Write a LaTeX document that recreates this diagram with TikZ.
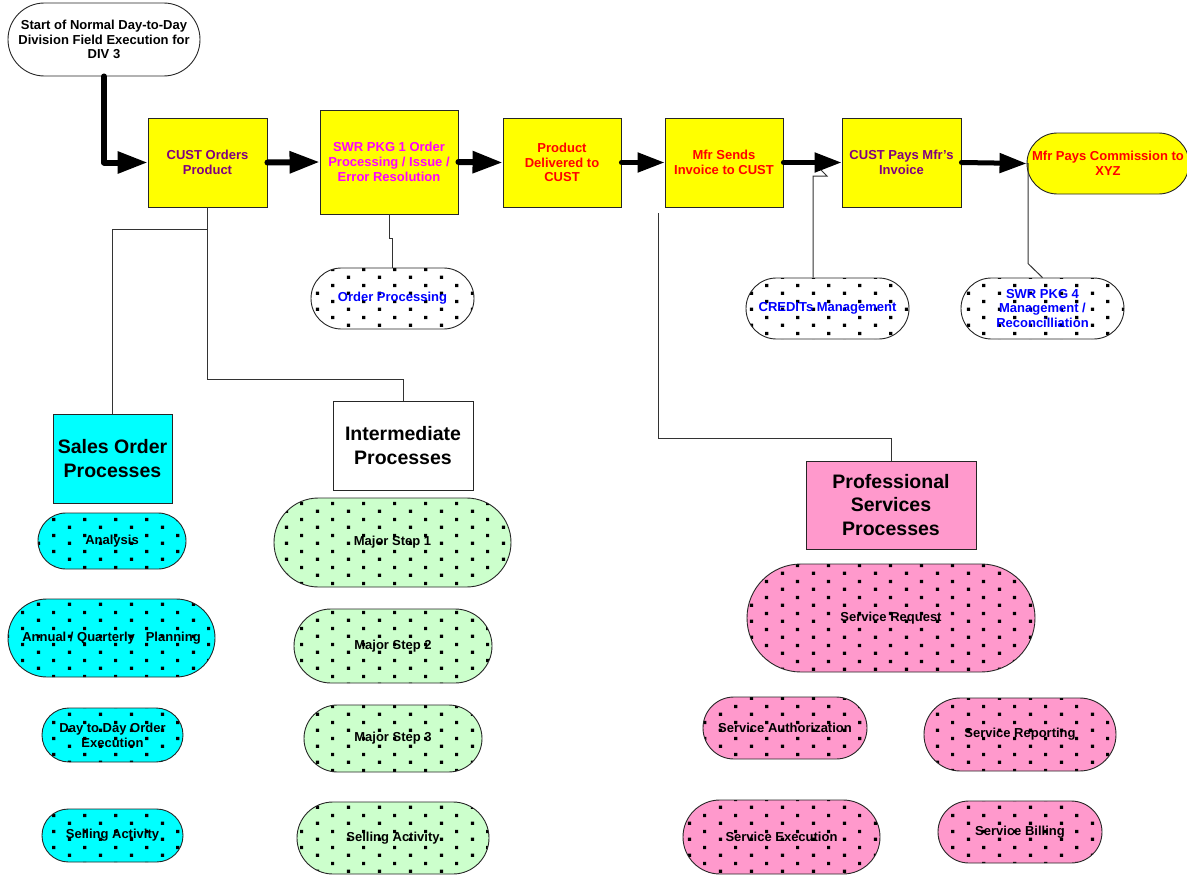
\documentclass[tikz,border=0pt]{standalone}
\usepackage{fontspec}
\setmainfont{Liberation Sans}
\usetikzlibrary{arrows.meta,patterns}
\pgfdeclarepatternformonly{sqdots}{\pgfpointorigin}{\pgfpoint{31pt}{15.6pt}}{\pgfpoint{31pt}{15.6pt}}{%
  \pgfpathrectangle{\pgfpoint{6.1pt}{2.25pt}}{\pgfpoint{3.3pt}{3.3pt}}%
  \pgfpathrectangle{\pgfpoint{21.6pt}{10.05pt}}{\pgfpoint{3.3pt}{3.3pt}}%
  \pgfusepath{fill}}
\definecolor{ylw}{HTML}{FFFF00}
\definecolor{purp}{HTML}{800080}
\definecolor{mag}{HTML}{FF00FF}
\definecolor{rd}{HTML}{FF0000}
\definecolor{blu}{HTML}{0000FF}
\definecolor{cyn}{HTML}{00FFFF}
\definecolor{lgreen}{HTML}{CCFFCC}
\definecolor{pnk}{HTML}{FF99CC}
\tikzset{
  every node/.style={font=\bfseries\fontsize{13}{14.7}\selectfont, align=center, inner sep=0pt},
  box/.style n args={2}{rectangle, draw=black!85, line width=0.9pt, minimum width=#1pt, minimum height=#2pt},
  stad/.style n args={2}{rectangle, draw=black!85, line width=0.9pt, minimum width=#1pt, minimum height=#2pt, rounded corners={0.499*#2pt}},
  dots/.style={preaction={fill=#1}, pattern=sqdots},
  bigtxt/.style={font=\bfseries\fontsize{19.5}{23.3}\selectfont},
  bigarrow/.style={line width=6pt, line cap=round, line join=round, -{Triangle[length=30pt,width=21pt]}},
  midarrow/.style={line width=5pt, line cap=round, line join=round, -{Triangle[length=27pt,width=19pt]}},
  conn/.style={draw=black!80, line width=1pt}
}
\begin{document}
\begin{tikzpicture}[x=1pt,y=-1pt]
\useasboundingbox (0,0) rectangle (1187,875);
% top row
\node[stad={192}{73}, fill=white] (start) at (104,39.5) {Start of Normal Day-to-Day\\Division Field Execution for\\DIV 3};
\node[box={119}{89}, fill=ylw, text=purp] (cust) at (207.5,162.5) {CUST Orders\\Product};
\node[box={138}{104}, fill=ylw, text=mag] (swr) at (389,162) {SWR PKG 1 Order\\Processing / Issue /\\Error Resolution};
\node[box={118}{89}, fill=ylw, text=rd] (prod) at (562,162.5) {Product\\Delivered to\\CUST};
\node[box={118}{89}, fill=ylw, text=rd] (mfr) at (724,162.5) {Mfr Sends\\Invoice to CUST};
\node[box={119}{89}, fill=ylw, text=purp] (cpay) at (901.5,162.5) {CUST Pays Mfr's\\Invoice};
\node[stad={162}{61}, fill=ylw, text=rd] (mpay) at (1108,163.5) {Mfr Pays Commission to\\XYZ};
% blue dotted helpers
\node[stad={163}{61}, dots=white, text=blu] (ordp) at (392.5,298.5) {Order Processing};
\node[stad={163}{61}, dots=white, text=blu] (credits) at (827.5,308.5) {CREDITs Management};
\node[stad={163}{61}, dots=white, text=blu] (swr4) at (1042.5,308.5) {SWR PKG 4\\Management /\\Reconcilliation};
% group headers
\node[box={119}{89}, fill=cyn, bigtxt] (sales) at (112.5,458.5) {Sales Order\\Processes};
\node[box={140}{89}, fill=white, bigtxt] (inter) at (403,445.5) {Intermediate\\Processes};
\node[box={170}{88}, fill=pnk, bigtxt] (prof) at (891,505) {Professional\\Services\\Processes};
% sales order items
\node[stad={148}{56}, dots=cyn] (analysis) at (112,541) {Analysis};
\node[stad={207}{78}, dots=cyn] (annual) at (111.5,638) {Annual / Quarterly\ \ \ Planning};
\node[stad={141}{54}, dots=cyn] (daytoday) at (112.5,735) {Day to Day Order\\Execution};
\node[stad={141}{53}, dots=cyn] (sell1) at (112.5,835.5) {Selling Activity};
% intermediate items
\node[stad={237}{89}, dots=lgreen] (ms1) at (392.5,542.5) {Major Step 1};
\node[stad={198}{74}, dots=lgreen] (ms2) at (393,646) {Major Step 2};
\node[stad={178}{67}, dots=lgreen] (ms3) at (393,738.5) {Major Step 3};
\node[stad={192}{72}, dots=lgreen] (sell2) at (393,838) {Selling Activity};
% professional services items
\node[stad={288}{108}, dots=pnk] (sreq) at (891,618) {Service Request};
\node[stad={164}{62}, dots=pnk] (sauth) at (785,728) {Service Authorization};
\node[stad={192}{73}, dots=pnk] (srep) at (1020,734.5) {Service Reporting};
\node[stad={197}{74}, dots=pnk] (sexec) at (781.5,837) {Service Execution};
\node[stad={164}{62}, dots=pnk] (sbill) at (1020,832) {Service Billing};
% main flow arrows
\draw[bigarrow] (start.south) |- (cust.west);
\draw[bigarrow] (cust.east) -- (swr.west);
\draw[bigarrow] (swr.east) -- (prod.west);
\draw[midarrow] (prod.east) -- (mfr.west);
\draw[midarrow] (mfr.east) -- (cpay.west);
\draw[midarrow] (cpay.east) -- (mpay.west);
% thin connectors
\coordinate (cj) at (827,176);
\draw[conn] (swr.south) -- ++(0,24) -| (ordp.north);
\draw[conn] ([xshift=-14.5pt]credits.north) |- (cj) -- ++(-6,-6);
\draw[conn] (swr4.north) -- ++(-14.5,-14) |- (mpay.west);
\draw[conn] (cust.south) -- ++(0,22) -| (sales.north);
\draw[conn] (cust.south) -- ++(0,172) -| (inter.north);
\draw[conn] ([xshift=-66pt,yshift=-6pt]mfr.south) -- ++(0,225) -| (prof.north);
\end{tikzpicture}
\end{document}
